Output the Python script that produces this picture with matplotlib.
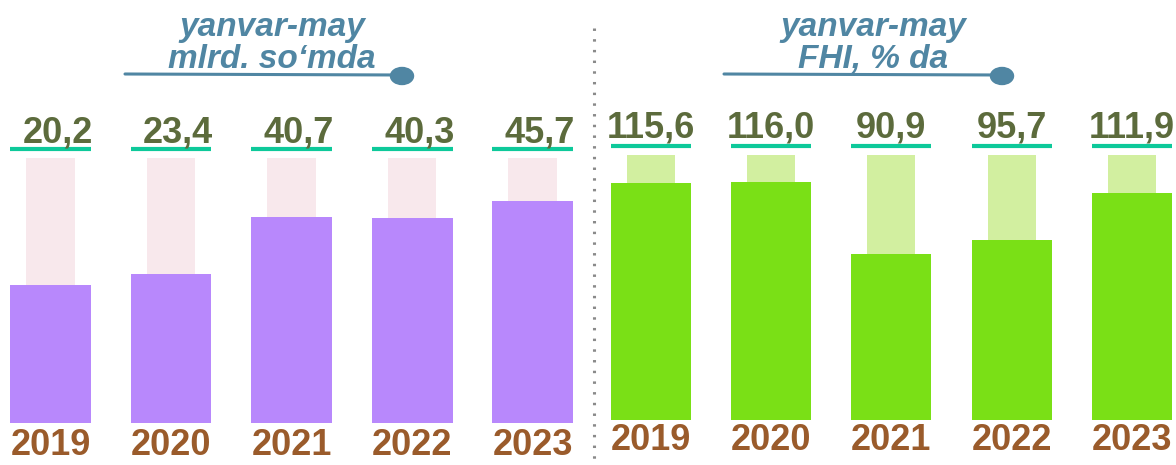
import matplotlib
matplotlib.use("Agg")
import matplotlib.pyplot as plt
from matplotlib.patches import Ellipse
from matplotlib.transforms import blended_transform_factory as blend

# ---------------- data ----------------
years = ['2019', '2020', '2021', '2022', '2023']
mlrd_values = [20.2, 23.4, 40.7, 40.3, 45.7]          # yanvar-may, mlrd. so'mda
fhi_values = [115.6, 116.0, 90.9, 95.7, 111.9]        # yanvar-may, FHI, % da
left_title = ['yanvar-may', 'mlrd. so‘mda']
right_title = ['yanvar-may', 'FHI, % da']

# ---------------- style ----------------
FONT = 'Liberation Sans'
PURPLE = '#B888FC'
PINK = '#F8E8EC'
GREEN = '#7AE016'
LGREEN = '#D2EFA0'
TEAL = '#0DC99A'
OLIVE = '#5C6B3C'
BROWN = '#9A5B2B'
TITLE = '#5086A3'

W, H = 1176, 465
fig = plt.figure(figsize=(W / 100, H / 100), dpi=100)

ax1 = fig.add_axes([0, 0, 590 / W, 1])
ax2 = fig.add_axes([598 / W, 0, 578 / W, 1])
ov = fig.add_axes([0, 0, 1, 1], zorder=5)
ov.set_xlim(0, W)
ov.set_ylim(H, 0)
for a in (ax1, ax2, ov):
    a.axis('off')
ov.patch.set_alpha(0)

x = list(range(len(years)))

panels = [
    # ax, values, xlim, ylim, base, bg_top, bar_w, main col, bg col, label y px, line y px, year y px, label dx
    (ax1, mlrd_values, (-0.419, 4.477), (-34.07, 106.2), -21.4, 58.5, 0.672, PURPLE, PINK, 142, 149, 455, 0.06),
    (ax2, fhi_values, (-0.441, 4.368), (17.93, 178.8), 33.5, 125.2, 0.666, GREEN, LGREEN, 137, 146, 450, 0.0),
]

for ax, vals, xl, yl, base, bgtop, bw, col, bgcol, ly, liney, yy, dx in panels:
    ax.set_xlim(*xl)
    ax.set_ylim(*yl)
    ax.bar(x, [bgtop - base] * len(x), bottom=base, width=0.4, color=bgcol, zorder=1)
    ax.bar(x, [v - base for v in vals], bottom=base, width=bw, color=col, zorder=2)
    tr = blend(ax.transData, ov.transData)
    for i, v in zip(x, vals):
        ov.text(i + dx, ly, f"{v:.1f}".replace('.', ','), transform=tr,
                ha='center', va='baseline', fontsize=26, fontweight='bold',
                color=OLIVE, family=FONT)
        ov.plot([i - bw / 2, i + bw / 2], [liney, liney], transform=tr,
                color=TEAL, lw=3, solid_capstyle='butt')
        ov.text(i, yy, years[i], transform=tr, ha='center', va='baseline',
                fontsize=26, fontweight='bold', color=BROWN, family=FONT)

# titles with underline + dot
for lines, cx, x0, x1 in [(left_title, 272, 125, 402), (right_title, 873, 724, 1002)]:
    ov.text(cx, 36, lines[0], ha='center', va='baseline', fontsize=24,
            fontweight='bold', style='italic', color=TITLE, family=FONT)
    ov.text(cx, 68, lines[1], ha='center', va='baseline', fontsize=24,
            fontweight='bold', style='italic', color=TITLE, family=FONT)
    ov.plot([x0, x1], [74, 75], color=TITLE, lw=2.2, solid_capstyle='round')
    ov.add_patch(Ellipse((x1, 76), 23, 17, color=TITLE, zorder=6))

# dotted separator
ov.plot([594, 594], [28, 460], color='#8A8A8A', lw=2.2, linestyle=(0, (0.8, 2.7)))

fig.savefig('out.png', dpi=100)
